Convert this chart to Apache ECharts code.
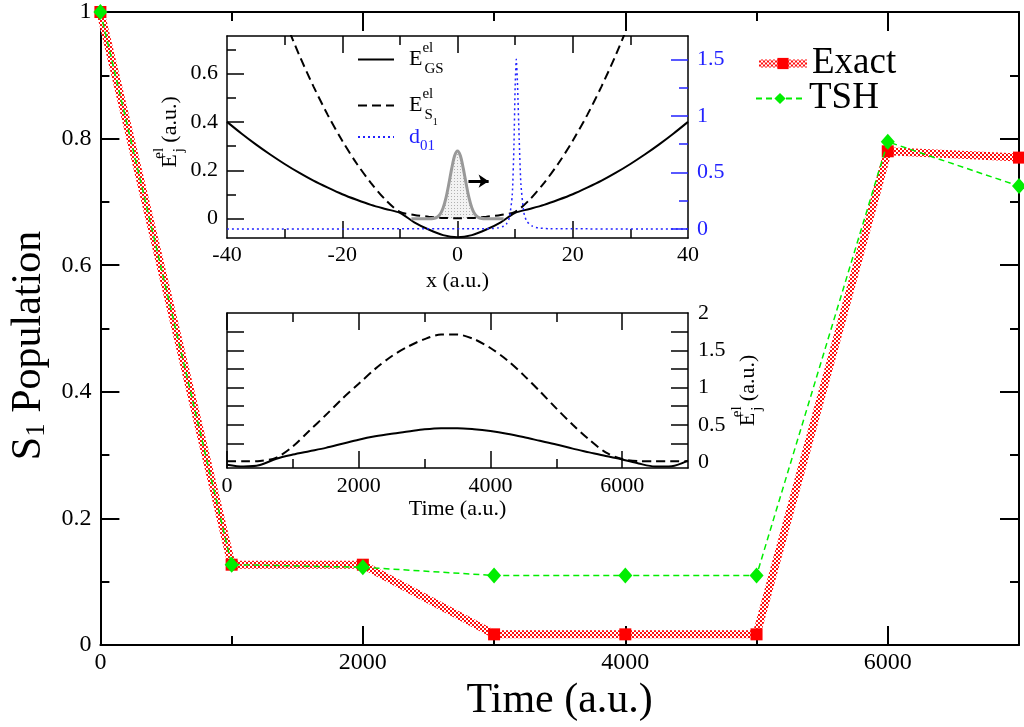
<!DOCTYPE html>
<html>
<head>
<meta charset="utf-8">
<script src="https://cdn.jsdelivr.net/npm/echarts@6/dist/echarts.min.js"></script>
<style>
html, body { margin: 0; padding: 0; background: #fff; }
#main { width: 1024px; height: 727px; }
</style>
</head>
<body>
<div id="main"></div>
<script>
// ---- main plot: S1 population vs time ----
var timeSteps = [0, 1000, 2000, 3000, 4000, 5000, 6000, 7000];
var exactPop = [1.0, 0.127, 0.127, 0.017, 0.017, 0.017, 0.78, 0.77];
var tshPop = [1.0, 0.127, 0.123, 0.110, 0.110, 0.110, 0.795, 0.725];

// ---- inset 1: potentials along x ----
var potX = [-40, -37.5, -35, -32.5, -30, -27.5, -25, -22.5, -20, -17.5, -15, -12.5, -10, -7.5, -5, -2.5, 0,
    2.5, 5, 7.5, 10, 12.5, 15, 17.5, 20, 22.5, 25, 27.5, 30, 32.5, 35, 37.5, 40];
var groundE = [0.40, 0.352, 0.307, 0.265, 0.226, 0.19, 0.157, 0.128, 0.101, 0.078, 0.057, 0.04, 0.024, -0.015, -0.045, -0.068, -0.077,
    -0.068, -0.045, -0.015, 0.024, 0.04, 0.057, 0.078, 0.101, 0.128, 0.157, 0.19, 0.226, 0.265, 0.307, 0.352, 0.40];
var excitedX = [-30, -27.5, -25, -22.5, -20, -17.5, -15, -12.5, -10, -7.5, -5, -2.5, 0,
    2.5, 5, 7.5, 10, 12.5, 15, 17.5, 20, 22.5, 25, 27.5, 30];
var excitedE = [0.822, 0.678, 0.547, 0.428, 0.322, 0.228, 0.147, 0.078, 0.028, 0.015, 0.008, 0.003, 0.002,
    0.003, 0.008, 0.015, 0.028, 0.078, 0.147, 0.228, 0.322, 0.428, 0.547, 0.678, 0.822];
var couplingX = [-40, 6, 7, 8, 8.5, 9, 9.5, 9.8, 10, 10.2, 10.4, 10.7, 11, 11.5, 12, 13, 14, 16, 40];
var couplingD = [0, 0.004, 0.01, 0.025, 0.045, 0.1, 0.3, 0.75, 1.25, 1.5, 1.3, 0.8, 0.4, 0.15, 0.07, 0.025, 0.01, 0.003, 0];
var packetX = [-8, -5, -4, -3.5, -3, -2.5, -2, -1.5, -1, -0.5, 0, 0.5, 1, 1.5, 2, 2.5, 3, 3.5, 4, 5, 8];
var packetY = [0, 0, 0.002, 0.007, 0.019, 0.044, 0.086, 0.144, 0.208, 0.26, 0.28, 0.26, 0.208, 0.144, 0.086, 0.044, 0.019, 0.007, 0.002, 0, 0];
var arrowX = [1.9, 5.4];
var arrowY = 0.155;

// ---- inset 2: energies vs time ----
var insetTime = [0, 250, 500, 750, 1000, 1250, 1500, 1750, 2000, 2250, 2500, 2750, 3000, 3250, 3500,
    3750, 4000, 4250, 4500, 4750, 5000, 5250, 5500, 5750, 6000, 6250, 6500, 6750, 7000];
var groundT = [-0.035, -0.06, -0.04, 0.045, 0.1, 0.145, 0.19, 0.245, 0.3, 0.345, 0.38, 0.41, 0.44, 0.455, 0.455,
    0.44, 0.415, 0.38, 0.335, 0.285, 0.235, 0.18, 0.13, 0.08, 0.035, -0.02, -0.06, -0.055, 0.02];
var excitedT = [0.01, 0.01, 0.015, 0.06, 0.21, 0.42, 0.63, 0.85, 1.05, 1.25, 1.42, 1.55, 1.65, 1.71, 1.71,
    1.65, 1.53, 1.37, 1.17, 0.95, 0.72, 0.5, 0.3, 0.13, 0.04, 0.012, 0.01, 0.01, 0.01];

var serif = '"Liberation Serif", "DejaVu Serif", serif';
var blue = '#2222ff';

function pairs(xs, ys) {
    return xs.map(function (x, i) { return [x, ys[i]]; });
}
function plain(v) { return String(v); }

// red/white checker used for the thick "Exact" line (2px cells)
var hatch = document.createElement('canvas');
hatch.width = 4; hatch.height = 4;
var hc = hatch.getContext('2d');
hc.fillStyle = '#ffffff'; hc.fillRect(0, 0, 4, 4);
hc.fillStyle = '#ff1010'; hc.fillRect(0, 0, 2, 2); hc.fillRect(2, 2, 2, 2);

// light dots for the wave packet
var dots = document.createElement('canvas');
dots.width = 3; dots.height = 3;
var dc = dots.getContext('2d');
dc.fillStyle = '#f2f2f2'; dc.fillRect(0, 0, 3, 3);
dc.fillStyle = '#b0b0b0'; dc.fillRect(1, 1, 1, 1);

var xAxes = [], yAxes = [];

// one side of a frame: line + long ticks (+ labels), then a second axis with short ticks
function addSide(list, o) {
    var ax = {
        type: 'value', gridIndex: o.grid, position: o.position, min: o.min, max: o.max,
        axisLine: { show: true, onZero: false, lineStyle: { color: '#000', width: o.lw } },
        axisTick: { show: true, inside: true, length: o.majorLen, customValues: o.major,
            lineStyle: { color: o.tickColor || '#000', width: o.lw } },
        axisLabel: o.labels ? { show: true, customValues: o.labels, formatter: plain, fontSize: o.fontSize,
            fontFamily: serif, color: o.labelColor || '#000', margin: o.margin } : { show: false },
        splitLine: { show: false }
    };
    if (o.name) {
        ax.name = o.name;
        ax.nameLocation = 'middle';
        ax.nameGap = o.nameGap;
        if (o.nameRotate != null) ax.nameRotate = o.nameRotate;
        ax.nameTextStyle = { fontFamily: serif, fontSize: o.nameSize, color: '#000', rich: o.rich };
    }
    list.push(ax);
    var idx = list.length - 1;
    if (o.minor) {
        list.push({
            type: 'value', gridIndex: o.grid, position: o.position, min: o.min, max: o.max,
            axisLine: { show: false, onZero: false },
            axisTick: { show: true, inside: true, length: o.minorLen, customValues: o.minor,
                lineStyle: { color: o.tickColor || '#000', width: o.lw } },
            axisLabel: { show: false },
            splitLine: { show: false }
        });
    }
    return idx;
}

var nameRich = {
    big: { fontFamily: serif, fontSize: 42 },
    tail: { fontFamily: serif, fontSize: 42, padding: [0, 34, 0, 0] },
    s1: { fontFamily: serif, fontSize: 27, padding: [16, 0, 0, 0] }
};
var insetRich = {
    n: { fontFamily: serif, fontSize: 22 },
    sup: { fontFamily: serif, fontSize: 15, width: 2, padding: [0, 0, 22, 0] },
    sub: { fontFamily: serif, fontSize: 15, padding: [18, 0, 0, 0] }
};
var insetRichUp = {
    first: { fontFamily: serif, fontSize: 22, padding: [0, 0, 0, 10] },
    n: { fontFamily: serif, fontSize: 22 },
    sup: { fontFamily: serif, fontSize: 15, width: 2, padding: [0, 0, 22, 0] },
    sub: { fontFamily: serif, fontSize: 15, padding: [18, 0, 0, 0] }
};

// main frame
var mainX = addSide(xAxes, { grid: 0, position: 'bottom', min: 0, max: 7000, lw: 2,
    major: [0, 2000, 4000, 6000], majorLen: 19, minor: [1000, 3000, 5000], minorLen: 9,
    labels: [0, 2000, 4000, 6000], fontSize: 24, margin: 6,
    name: 'Time (a.u.)', nameGap: 29, nameSize: 42 });
addSide(xAxes, { grid: 0, position: 'top', min: 0, max: 7000, lw: 2,
    major: [0, 2000, 4000, 6000], majorLen: 19, minor: [1000, 3000, 5000], minorLen: 9 });
var mainY = addSide(yAxes, { grid: 0, position: 'left', min: 0, max: 1, lw: 2,
    major: [0.2, 0.4, 0.6, 0.8], majorLen: 19, minor: [0.1, 0.3, 0.5, 0.7, 0.9], minorLen: 9,
    labels: [0, 0.2, 0.4, 0.6, 0.8, 1], fontSize: 24, margin: 9,
    name: '{big|S}{s1|1}{tail| Population}', nameGap: 46, nameRotate: 90, nameSize: 42, rich: nameRich });
addSide(yAxes, { grid: 0, position: 'right', min: 0, max: 1, lw: 2,
    major: [0.2, 0.4, 0.6, 0.8], majorLen: 19, minor: [0.1, 0.3, 0.5, 0.7, 0.9], minorLen: 9 });

// inset 1 frame
var potAxisX = addSide(xAxes, { grid: 1, position: 'bottom', min: -40, max: 40, lw: 1.5,
    major: [-20, 0, 20], majorLen: 17, minor: [-30, -10, 10, 30], minorLen: 9,
    labels: [-40, -20, 0, 20, 40], fontSize: 22, margin: 6,
    name: 'x (a.u.)', nameGap: 32, nameSize: 22 });
addSide(xAxes, { grid: 1, position: 'top', min: -40, max: 40, lw: 1.5,
    major: [-20, 0, 20], majorLen: 17, minor: [-30, -10, 10, 30], minorLen: 9 });
var potAxisY = addSide(yAxes, { grid: 1, position: 'left', min: -0.08, max: 0.755, lw: 1.5,
    major: [0, 0.2, 0.4, 0.6], majorLen: 17, minor: [0.1, 0.3, 0.5, 0.7], minorLen: 9,
    labels: [0, 0.2, 0.4, 0.6], fontSize: 22, margin: 9,
    name: '{first|E}{sup|el}{sub|j}{n| (a.u.)}', nameGap: 31, nameRotate: 90, nameSize: 22, rich: insetRichUp });
var coupAxisY = addSide(yAxes, { grid: 1, position: 'right', min: -0.079, max: 1.706, lw: 1.5,
    major: [0, 0.5, 1, 1.5], majorLen: 17, minor: [0.25, 0.75, 1.25], minorLen: 9, tickColor: blue,
    labels: [0, 0.5, 1, 1.5], fontSize: 22, margin: 9, labelColor: blue });

// inset 2 frame
var timeAxisX = addSide(xAxes, { grid: 2, position: 'bottom', min: 0, max: 7000, lw: 1.5,
    major: [0, 2000, 4000, 6000], majorLen: 17, minor: [1000, 3000, 5000], minorLen: 9,
    labels: [0, 2000, 4000, 6000], fontSize: 22, margin: 7,
    name: 'Time (a.u.)', nameGap: 27, nameSize: 22 });
addSide(xAxes, { grid: 2, position: 'top', min: 0, max: 7000, lw: 1.5,
    major: [0, 2000, 4000, 6000], majorLen: 17, minor: [1000, 3000, 5000], minorLen: 9 });
addSide(yAxes, { grid: 2, position: 'left', min: -0.08, max: 2, lw: 1.5,
    major: [0.25, 0.5, 0.75, 1, 1.25, 1.5, 1.75], majorLen: 17 });
var timeAxisY = addSide(yAxes, { grid: 2, position: 'right', min: -0.08, max: 2, lw: 1.5,
    major: [0.25, 0.5, 0.75, 1, 1.25, 1.5, 1.75], majorLen: 17,
    labels: [0, 0.5, 1, 1.5, 2], fontSize: 22, margin: 10,
    name: '{n|E}{sup|el}{sub|j}{n| (a.u.)}', nameGap: 38, nameRotate: 90, nameSize: 22, rich: insetRich });

var legendText = {
    'E_GS': '{E|E}{sup|el}{sub|GS}',
    'E_S1': '{E|E}{sup|el}{sub|S}{subsub|1}',
    'd01': '{d|d}{dsub|01}'
};
var legendRich = {
    E: { fontFamily: serif, fontSize: 22, color: '#000', padding: [0, 0, 0, 10] },
    sup: { fontFamily: serif, fontSize: 15, color: '#000', width: 2, padding: [0, 0, 22, 0] },
    sub: { fontFamily: serif, fontSize: 15, color: '#000', padding: [20, 0, 0, 0] },
    subsub: { fontFamily: serif, fontSize: 10, color: '#000', padding: [34, 0, 0, 0] },
    d: { fontFamily: serif, fontSize: 22, color: blue, padding: [0, 0, 0, 10] },
    dsub: { fontFamily: serif, fontSize: 15, color: blue, padding: [18, 0, 0, 0] }
};
function insetLegend(name, top) {
    return {
        data: [name], left: 352, top: top, itemWidth: 36, itemHeight: 14,
        itemStyle: { opacity: 0 },
        formatter: function (n) { return legendText[n]; },
        textStyle: { color: '#000', rich: legendRich }, selectedMode: false
    };
}
function mainLegend(item, top) {
    return {
        data: [item], left: 750, top: top, itemWidth: 48, itemHeight: 14, selectedMode: false,
        textStyle: { fontFamily: serif, fontSize: 37, color: '#000', lineHeight: 34 }
    };
}

var dom = document.getElementById('main');
var myChart = echarts.init(dom);
var option = {
    animation: false,
    backgroundColor: '#fff',
    grid: [
        { left: 98, top: 9, width: 921, height: 643 },
        { left: 227, top: 36, width: 461, height: 202 },
        { left: 227, top: 313, width: 461, height: 155 }
    ],
    xAxis: xAxes,
    yAxis: yAxes,
    legend: [
        mainLegend({ name: 'Exact', lineStyle: { width: 8, color: { image: hatch, repeat: 'repeat' } } }, 40),
        mainLegend({ name: 'TSH' }, 75),
        insetLegend('E_GS', 36),
        insetLegend('E_S1', 82),
        insetLegend('d01', 121)
    ],
    series: [
        {
            name: 'Exact', type: 'line', xAxisIndex: mainX, yAxisIndex: mainY,
            data: pairs(timeSteps, exactPop),
            symbol: 'rect', symbolSize: 12, z: 2,
            itemStyle: { color: '#ff0000' },
            lineStyle: { width: 8, color: { image: hatch, repeat: 'repeat' } }
        },
        {
            name: 'TSH', type: 'line', xAxisIndex: mainX, yAxisIndex: mainY,
            data: pairs(timeSteps, tshPop),
            symbol: 'diamond', symbolSize: [14, 16], z: 3,
            itemStyle: { color: '#00ee00' },
            lineStyle: { width: 1.5, type: [6, 4], color: '#00ee00' }
        },
        {
            name: 'E_GS', type: 'line', xAxisIndex: potAxisX, yAxisIndex: potAxisY,
            data: pairs(potX, groundE), symbol: 'none', smooth: 0.3,
            lineStyle: { width: 2, color: '#000' }
        },
        {
            name: 'E_S1', type: 'line', xAxisIndex: potAxisX, yAxisIndex: potAxisY,
            data: pairs(excitedX, excitedE), symbol: 'none', smooth: 0.3,
            lineStyle: { width: 2, color: '#000', type: [9, 5] }
        },
        {
            name: 'd01', type: 'line', xAxisIndex: potAxisX, yAxisIndex: coupAxisY,
            data: pairs(couplingX, couplingD), symbol: 'none', smooth: 0.2,
            lineStyle: { width: 1.5, color: blue, type: [2, 3] }, itemStyle: { color: blue }
        },
        {
            name: 'packet', type: 'line', xAxisIndex: potAxisX, yAxisIndex: potAxisY,
            data: pairs(packetX, packetY), symbol: 'none', smooth: 0.3,
            lineStyle: { width: 3, color: '#999' },
            areaStyle: { color: { image: dots, repeat: 'repeat' }, opacity: 1 },
            markLine: {
                silent: true, symbol: ['none', 'arrow'], symbolSize: [10, 10],
                label: { show: false },
                lineStyle: { color: '#000', width: 3, type: 'solid' },
                data: [[{ coord: [arrowX[0], arrowY] }, { coord: [arrowX[1], arrowY] }]]
            }
        },
        {
            name: 'GS(t)', type: 'line', xAxisIndex: timeAxisX, yAxisIndex: timeAxisY,
            data: pairs(insetTime, groundT), symbol: 'none', smooth: 0.3,
            lineStyle: { width: 2, color: '#000' }
        },
        {
            name: 'S1(t)', type: 'line', xAxisIndex: timeAxisX, yAxisIndex: timeAxisY,
            data: pairs(insetTime, excitedT), symbol: 'none', smooth: 0.3,
            lineStyle: { width: 2, color: '#000', type: [9, 5] }
        }
    ]
};
myChart.setOption(option);
</script>
</body>
</html>
